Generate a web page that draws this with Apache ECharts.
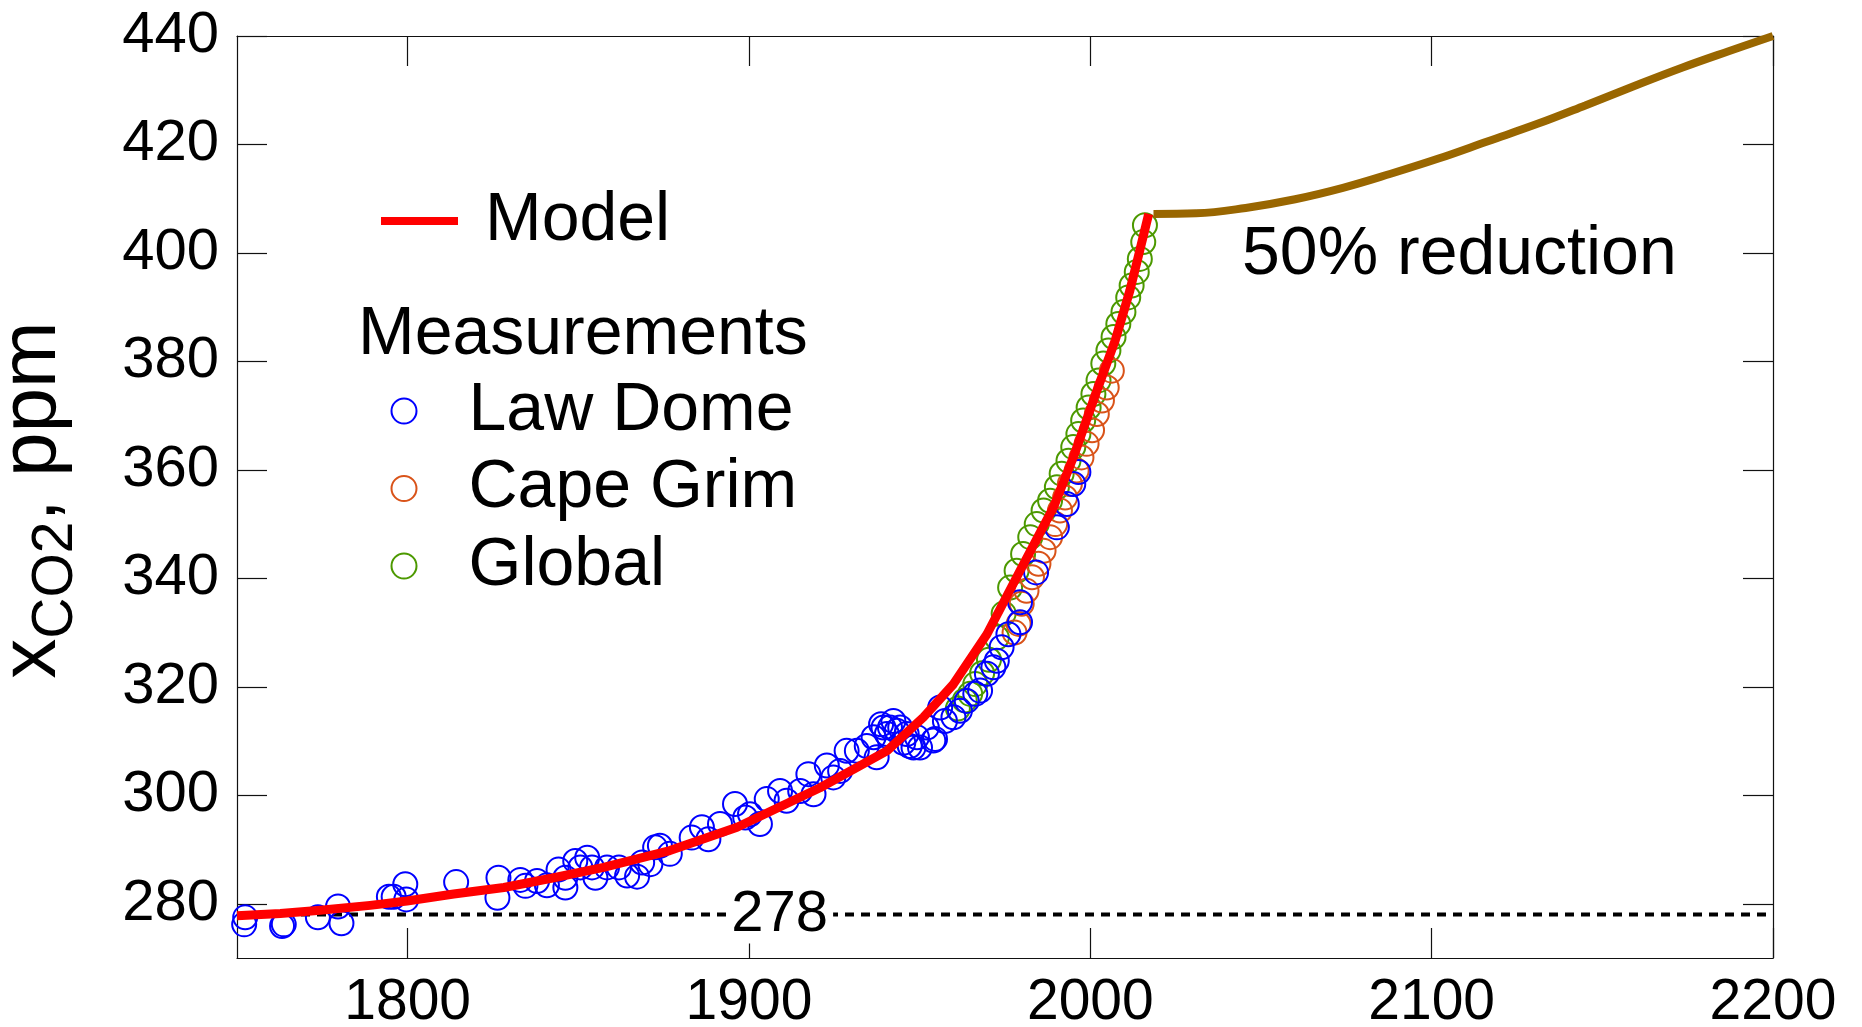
<!DOCTYPE html>
<html>
<head>
<meta charset="utf-8">
<title>Atmospheric CO2</title>
<script src="https://cdn.jsdelivr.net/npm/echarts@6/dist/echarts.min.js"></script>
<style>
  html, body { margin: 0; padding: 0; background: #fff; }
  #chart { width: 1862px; height: 1027px; }
</style>
</head>
<body>
<div id="chart"></div>
<script>
// Tick positions for both axes
const xTicks = [1800, 1900, 2000, 2100, 2200];
const yTicks = [280, 300, 320, 340, 360, 380, 400, 420, 440];

// Pre-industrial reference level, ppm
const baselineValue = 278;

// Model curve, [year, ppm]
const modelCurve = [
  [1750, 277.8], [1762.7, 278.2], [1774.4, 278.8], [1789.0, 279.7], [1799.8, 280.5],
  [1813.5, 281.8], [1828.2, 283.0], [1842.8, 284.8], [1857.4, 286.7], [1876.8, 289.8],
  [1896.5, 294.1], [1920.8, 301.4], [1940.4, 308.2], [1951.1, 314.4], [1959.9, 320.5],
  [1969.7, 329.7], [1979.4, 341.4], [1989.2, 353.1], [1995.0, 362.3], [2001.9, 374.6],
  [2007.3, 383.9], [2011.6, 393.1], [2014.0, 399.2], [2017.1, 407.2]
];

// Projection with emissions cut by half, [year, ppm]
const reductionCurve = [
  [2018.5, 407.2], [2031, 407.3], [2045.5, 408.3], [2060, 409.9], [2074, 412.0],
  [2088, 414.6], [2102, 417.4], [2116.5, 420.6], [2131, 423.8], [2145, 427.2],
  [2159, 430.7], [2173.5, 434.2], [2187, 437.2], [2200, 440.0]
];

// Law Dome ice core, [year, ppm]
const lawDome = [
  [1752.1, 276.2], [1752.4, 277.5], [1763.2, 275.9], [1763.7, 276.2], [1773.7, 277.5],
  [1779.6, 279.5], [1780.6, 276.4], [1794.5, 281.3], [1795.9, 281.3], [1799.3, 283.6],
  [1799.6, 280.8], [1814.2, 284.0], [1826.6, 284.8], [1826.3, 281.1], [1833.0, 284.4],
  [1834.5, 283.3], [1837.9, 284.2], [1840.8, 283.4], [1844.2, 286.3], [1846.2, 284.8],
  [1846.2, 283.0], [1849.1, 287.9], [1850.6, 286.7], [1852.6, 288.5], [1854.0, 286.7],
  [1855.0, 284.8], [1858.4, 286.7], [1861.9, 286.7], [1864.3, 285.2], [1867.2, 285.0],
  [1868.7, 287.6], [1871.1, 287.3], [1872.5, 290.4], [1873.9, 290.7], [1876.8, 289.2],
  [1883.2, 292.2], [1886.2, 294.1], [1888.1, 291.9], [1891.5, 294.7], [1895.9, 298.4],
  [1898.9, 295.9], [1900.3, 296.5], [1903.2, 294.7], [1905.2, 299.3], [1909.1, 300.8],
  [1911.0, 299.0], [1915.0, 300.8], [1917.4, 303.9], [1918.9, 300.2], [1922.8, 305.5],
  [1924.7, 303.3], [1926.7, 304.5], [1928.6, 308.2], [1931.6, 308.2], [1934.5, 309.1],
  [1936.5, 310.7], [1937.4, 307.0], [1938.7, 313.1], [1939.4, 312.5], [1940.4, 311.3],
  [1941.3, 312.5], [1942.3, 313.7], [1943.3, 311.9], [1944.3, 312.5], [1945.2, 309.7],
  [1946.2, 311.3], [1947.1, 309.1], [1948.2, 308.8], [1949.2, 310.7], [1950.1, 308.8],
  [1952.1, 312.5], [1954.0, 310.1], [1954.5, 310.4], [1956.0, 316.2], [1957.4, 313.7],
  [1959.9, 314.4], [1961.8, 315.6], [1963.8, 317.4], [1966.3, 318.7], [1967.7, 319.3],
  [1969.7, 322.4], [1971.6, 323.6], [1972.6, 324.8], [1974.0, 327.3], [1976.0, 329.7],
  [1979.4, 331.9], [1979.4, 335.6], [1984.1, 341.1], [1990.2, 349.4], [1993.1, 353.7],
  [1995.0, 357.4], [1996.5, 359.6]
];

// Cape Grim air archive, [year, ppm]
const capeGrim = [
  [1977.8, 330.0], [1979.0, 331.6], [1979.9, 335.3], [1981.3, 337.7], [1982.9, 340.2],
  [1984.8, 342.7], [1986.3, 345.1], [1988.2, 347.6], [1989.7, 350.0], [1991.1, 352.5],
  [1992.6, 354.9], [1994.0, 357.4], [1996.0, 359.9], [1997.4, 362.3], [1998.9, 364.8],
  [2000.5, 367.3], [2001.9, 370.3], [2003.4, 372.8], [2004.8, 375.2], [2006.3, 378.3]
];

// Global mean, [year, ppm]
const globalMean = [
  [1961.2, 316.0], [1963.2, 317.5], [1964.8, 318.7], [1966.3, 320.5], [1968.3, 322.5],
  [1970.3, 325.0], [1972.6, 329.1], [1974.6, 333.5], [1976.5, 338.3], [1978.4, 341.4],
  [1980.3, 344.5], [1982.4, 347.6], [1984.3, 350.0], [1986.3, 352.5], [1988.2, 354.3],
  [1990.2, 356.8], [1991.6, 359.3], [1993.6, 361.7], [1995.0, 364.2], [1996.5, 366.6],
  [1997.9, 369.1], [1999.5, 371.5], [2000.9, 374.0], [2002.4, 376.5], [2003.8, 379.6],
  [2005.3, 382.0], [2006.8, 384.5], [2008.2, 386.9], [2009.7, 389.1], [2011.1, 391.8],
  [2012.1, 394.0], [2013.6, 396.5], [2014.5, 398.9], [2015.5, 402.0], [2016.0, 405.1]
];

const FONT = '"Liberation Sans", Arial, Helvetica, sans-serif';
const X_MIN = 1750, X_MAX = 2200, Y_MIN = 270, Y_MAX = 440;

const chart = echarts.init(document.getElementById('chart'), null, { renderer: 'canvas' });

function frameAxis(extra) {
  return Object.assign({
    type: 'value',
    gridIndex: 0,
    axisLine: { show: true, onZero: false, lineStyle: { color: '#111', width: 1.2 } },
    splitLine: { show: false },
    minorTick: { show: false }
  }, extra);
}

function measurementSeries(name, data, color, z) {
  return {
    name: name,
    type: 'scatter',
    data: data,
    symbol: 'circle',
    symbolSize: 24,
    z: z,
    itemStyle: { color: 'rgba(0,0,0,0)', borderColor: color, borderWidth: 2, opacity: 1 },
    emphasis: { disabled: true },
    silent: true
  };
}

const plainNumber = function (v) { return String(v); };

const option = {
  animation: false,
  backgroundColor: '#fff',
  textStyle: { fontFamily: FONT },
  grid: { left: 237, top: 36, width: 1536, height: 922, outerBoundsMode: 'none', containLabel: false },
  xAxis: [
    frameAxis({
      position: 'bottom', min: X_MIN, max: X_MAX,
      axisTick: { show: true, inside: true, length: 30, customValues: xTicks, lineStyle: { color: '#111', width: 1.2 } },
      axisLabel: { show: true, customValues: xTicks, formatter: plainNumber, fontSize: 57, color: '#000', margin: 17, fontFamily: FONT }
    }),
    frameAxis({
      position: 'top', min: X_MIN, max: X_MAX,
      axisTick: { show: true, inside: true, length: 30, customValues: xTicks, lineStyle: { color: '#111', width: 1.2 } },
      axisLabel: { show: false }
    })
  ],
  yAxis: [
    frameAxis({
      position: 'left', min: Y_MIN, max: Y_MAX,
      axisTick: { show: true, inside: true, length: 30, customValues: yTicks, lineStyle: { color: '#111', width: 1.2 } },
      axisLabel: { show: true, customValues: yTicks, formatter: plainNumber, fontSize: 58, color: '#000', margin: 18, fontFamily: FONT },
      name: '{m|x}{s|CO2}{e|, ppm}',
      nameLocation: 'middle',
      nameRotate: 90,
      nameGap: 152,
      nameTextStyle: {
        color: '#000',
        rich: {
          m: { fontSize: 80, lineHeight: 104, verticalAlign: 'middle', fontFamily: FONT, color: '#000' },
          s: { fontSize: 57, lineHeight: 57, verticalAlign: 'bottom', fontFamily: FONT, color: '#000' },
          e: { fontSize: 80, lineHeight: 104, verticalAlign: 'middle', fontFamily: FONT, color: '#000', padding: [0, 6, 0, 0] }
        }
      }
    }),
    frameAxis({
      position: 'right', min: Y_MIN, max: Y_MAX,
      axisTick: { show: true, inside: true, length: 30, customValues: yTicks, lineStyle: { color: '#111', width: 1.2 } },
      axisLabel: { show: false }
    })
  ],
  legend: [
    {
      data: [{ name: 'Model', icon: 'rect' }],
      left: 376, top: 182,
      itemWidth: 77, itemHeight: 8,
      selectedMode: false,
      textStyle: { fontSize: 68, color: '#000', fontFamily: FONT, padding: [0, 0, 0, 22] }
    },
    {
      data: ['Law Dome', 'Cape Grim', 'Global'],
      orient: 'vertical',
      left: 385.5, top: 372,
      itemWidth: 25, itemHeight: 25,
      itemGap: 9.5,
      icon: 'circle',
      selectedMode: false,
      itemStyle: { color: 'rgba(0,0,0,0)', borderWidth: 2 },
      textStyle: { fontSize: 68, color: '#000', fontFamily: FONT, padding: [0, 0, 6, 47] }
    }
  ],
  graphic: [
    {
      type: 'text', left: 358, top: 301, silent: true,
      style: { text: 'Measurements', font: '68px ' + FONT, fill: '#000' }
    },
    {
      type: 'text', left: 1242, top: 221, silent: true,
      style: { text: '50% reduction', font: '68px ' + FONT, fill: '#000' }
    }
  ],
  series: [
    {
      name: 'baseline',
      type: 'line',
      data: [[X_MIN, baselineValue], [X_MAX, baselineValue]],
      symbol: 'none',
      z: 1,
      silent: true,
      lineStyle: { color: '#000', width: 4, type: [9, 7] }
    },
    {
      name: 'baselineLabel',
      type: 'scatter',
      data: [[1909, baselineValue]],
      symbolSize: 0,
      z: 2,
      silent: true,
      itemStyle: { opacity: 1 },
      label: {
        show: true, position: 'inside',
        formatter: function (p) { return String(p.value[1]); },
        fontSize: 58, color: '#000', opacity: 1, fontFamily: FONT,
        backgroundColor: '#fff', padding: [0, 5]
      }
    },
    measurementSeries('Global', globalMean, '#4c9900', 3),
    measurementSeries('Cape Grim', capeGrim, '#d95319', 4),
    measurementSeries('Law Dome', lawDome, '#0000ff', 5),
    {
      name: 'Model',
      type: 'line',
      data: modelCurve,
      symbol: 'none',
      z: 6,
      silent: true,
      color: '#ff0000',
      lineStyle: { color: '#ff0000', width: 9, cap: 'butt', join: 'round' }
    },
    {
      name: '50% reduction',
      type: 'line',
      data: reductionCurve,
      symbol: 'none',
      smooth: 0.4,
      z: 6,
      silent: true,
      lineStyle: { color: '#996600', width: 8, cap: 'butt' }
    }
  ]
};

chart.setOption(option);
</script>
</body>
</html>
